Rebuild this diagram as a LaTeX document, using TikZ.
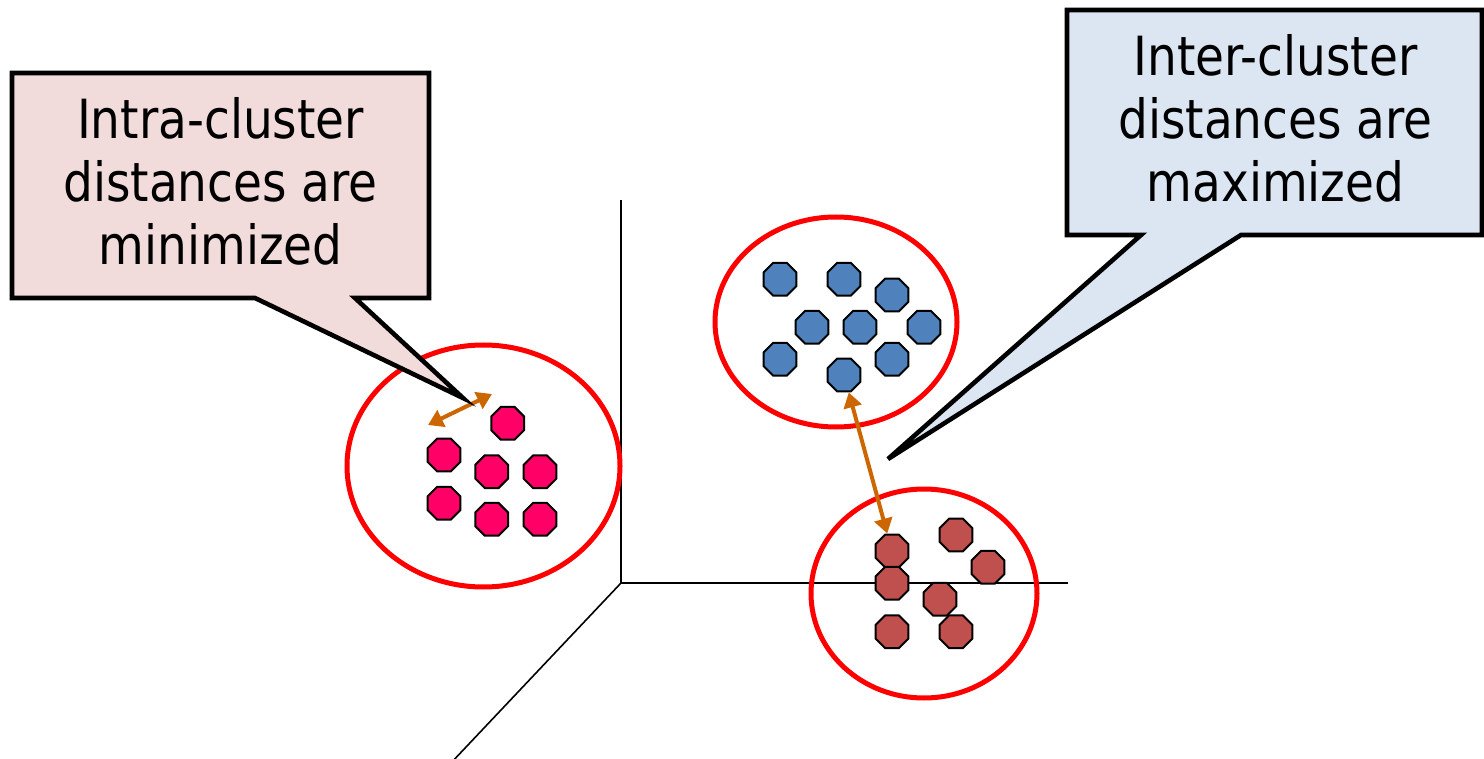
\documentclass[tikz,border=0pt]{standalone}
\usepackage{fontspec}
\setmainfont[FakeStretch=0.87]{DejaVu Sans}
\usetikzlibrary{shapes.geometric,arrows.meta}
\definecolor{pinkfill}{RGB}{242,220,219}
\definecolor{bluefill}{RGB}{220,230,242}
\definecolor{dotpink}{RGB}{255,0,102}
\definecolor{dotblue}{RGB}{79,129,189}
\definecolor{dotbrown}{RGB}{192,80,77}
\definecolor{arr}{RGB}{204,102,0}
\definecolor{ring}{RGB}{255,0,0}
\begin{document}
\begin{tikzpicture}[x=0.5pt,y=-0.5pt,
  oct/.style={regular polygon, regular polygon sides=8, draw=black, line width=1pt, inner sep=0pt, minimum size=17.8pt},
  pinkdot/.style={oct, fill=dotpink},
  bluedot/.style={oct, fill=dotblue},
  browndot/.style={oct, fill=dotbrown},
  axis/.style={draw=black, line width=0.8pt},
  ringline/.style={draw=ring, line width=2.5pt},
  callout/.style={draw=black, line width=2.3pt, line join=miter},
  calltext/.style={align=center, inner sep=0pt, font=\fontsize{27pt}{31.5pt}\selectfont},
  dist/.style={draw=arr, line width=2pt, {Triangle[length=7.5pt,width=9pt]}-{Triangle[length=7.5pt,width=9pt]}}
]
\useasboundingbox (0,0) rectangle (1484,759);
% axes
\coordinate (o) at (621,583);
\coordinate (ytop) at (621,200);
\coordinate (xend) at (1068,583);
\coordinate (zend) at (450,764);
\draw[axis] (ytop) -- (o) -- (xend);
\draw[axis] (o) -- (zend);
% cluster rings
\draw[ringline] (483.5,466) ellipse [x radius=68.25pt, y radius=60.5pt];
\draw[ringline] (836,322) ellipse [x radius=60.5pt, y radius=52.5pt];
\draw[ringline] (924,593.5) ellipse [x radius=56.5pt, y radius=52.25pt];
% pink cluster
\node[pinkdot] (p1) at (507.7,423.3) {};
\node[pinkdot] (p2) at (444,455) {};
\node[pinkdot] (p3) at (491.7,471.7) {};
\node[pinkdot] (p4) at (540,471.7) {};
\node[pinkdot] (p5) at (444,503.3) {};
\node[pinkdot] (p6) at (491.7,519.3) {};
\node[pinkdot] (p7) at (540,519.3) {};
% blue cluster
\node[bluedot] (b1) at (780,279.3) {};
\node[bluedot] (b2) at (844,279.3) {};
\node[bluedot] (b3) at (892,295) {};
\node[bluedot] (b4) at (812,327.3) {};
\node[bluedot] (b5) at (860,327.3) {};
\node[bluedot] (b6) at (924,327.3) {};
\node[bluedot] (b7) at (780,359.3) {};
\node[bluedot] (b8) at (892,359.3) {};
\node[bluedot] (b9) at (844,375) {};
% brown cluster
\node[browndot] (r1) at (892,551) {};
\node[browndot] (r2) at (892,583.3) {};
\node[browndot] (r3) at (956,535) {};
\node[browndot] (r4) at (988,567.3) {};
\node[browndot] (r5) at (940,599.3) {};
\node[browndot] (r6) at (892,631.7) {};
\node[browndot] (r7) at (956,631.7) {};
% distance arrows
\coordinate (ia) at (428,425);
\coordinate (ib) at (492,394);
\draw[dist] (ia) -- (ib);
\draw[dist] (b9) -- (r1);
% left callout
\coordinate (ltip) at (463,398);
\draw[callout, fill=pinkfill] (12,73) -- (429,73) -- (429,298) -- (355,298) -- (ltip) -- (255,298) -- (12,298) -- cycle;
\node[calltext] (ltext) at (220.5,181) {Intra-cluster\\distances are\\minimized};
% right callout
\coordinate (rtip) at (888,459);
\draw[callout, fill=bluefill] (1067,10) -- (1482,10) -- (1482,235) -- (1241,235) -- (rtip) -- (1141,235) -- (1067,235) -- cycle;
\node[calltext] (rtext) at (1275.5,118) {Inter-cluster\\distances are\\maximized};
\end{tikzpicture}
\end{document}
